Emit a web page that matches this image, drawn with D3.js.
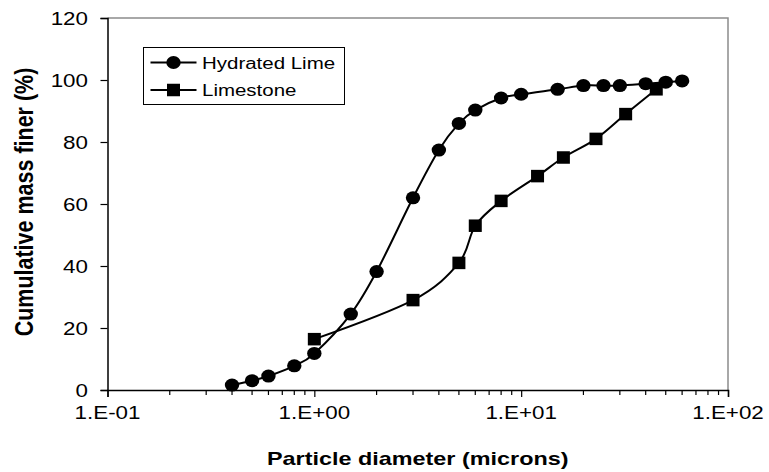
<!DOCTYPE html>
<html>
<head>
<meta charset="utf-8">
<script src="https://cdn.jsdelivr.net/npm/d3@7"></script>
<style>
  body { margin: 0; background: #fff; }
  svg { display: block; }
  text { font-family: "Liberation Sans", Arial, sans-serif; fill: #000; }
</style>
</head>
<body>
<svg id="chart" width="769" height="472"></svg>
<script>
// Particle size distributions (cumulative % finer vs diameter in microns)
const limeDiameter = [0.4, 0.5, 0.6, 0.8, 1, 1.5, 2, 3, 4, 5, 6, 8, 10, 15, 20, 25, 30, 40, 50, 60];
const limeFiner    = [1.6, 3.0, 4.5, 7.8, 11.8, 24.5, 38.2, 62, 77.4, 86, 90.3, 94.2, 95.4, 97, 98.2, 98.2, 98.2, 98.8, 99.3, 99.7];
const stoneDiameter = [1, 3, 5, 6, 8, 12, 16, 23, 32, 45];
const stoneFiner    = [16.4, 29, 41, 53, 61, 69, 75, 81, 89, 97];
const seriesNames = ["Hydrated Lime", "Limestone"];

const xTickValues = [0.1, 1, 10, 100];
const xTickLabels = ["1.E-01", "1.E+00", "1.E+01", "1.E+02"];
const yTickValues = [0, 20, 40, 60, 80, 100, 120];
const xTitle = "Particle diameter (microns)";
const yTitle = "Cumulative mass finer (%)";

const svg = d3.select("#chart");
const W = 769, H = 472;
const plot = { left: 107.5, right: 728, top: 18, bottom: 390 };
const textStretch = 1.27; // horizontal glyph stretch used by the labels

const x = d3.scaleLog().domain([0.1, 100]).range([plot.left, plot.right]);
const y = d3.scaleLinear().domain([0, 120]).range([plot.bottom, plot.top]);

svg.append("rect").attr("width", W).attr("height", H).attr("fill", "#fff");

// plot-area frame (top and right edges)
svg.append("path")
  .attr("d", `M${plot.left},${plot.top}H${plot.right}V${plot.bottom}`)
  .attr("fill", "none").attr("stroke", "#8c8c8c").attr("stroke-width", 1.5);

// helper: horizontally stretched text
function label(g, tx, ty, str, opts) {
  return g.append("text")
    .attr("transform", `translate(${tx},${ty}) scale(${opts.sx || textStretch},1)` + (opts.rotate ? ` rotate(${opts.rotate})` : ""))
    .attr("text-anchor", opts.anchor || "middle")
    .attr("font-size", opts.size)
    .attr("font-weight", opts.weight || "normal")
    .text(str);
}

// x axis: log scale with minor ticks
const xAxis = d3.axisBottom(x)
  .tickValues(xTickValues)
  .tickFormat("")
  .tickSizeOuter(0)
  .tickSize(7);
const gx = svg.append("g").attr("transform", `translate(0,${plot.bottom})`).call(xAxis);
gx.select(".domain").attr("stroke", "#000").attr("stroke-width", 1.5);
gx.selectAll(".tick line").attr("stroke", "#000").attr("stroke-width", 1.2);

const minor = [];
for (let d = 0.1; d < 100; d *= 10) for (let k = 2; k <= 9; k++) minor.push(d * k);
gx.selectAll(".minor").data(minor).enter().append("line")
  .attr("class", "minor")
  .attr("x1", d => x(d)).attr("x2", d => x(d))
  .attr("y1", 0).attr("y2", 5)
  .attr("stroke", "#000").attr("stroke-width", 1.2);

const gxl = svg.append("g");
xTickValues.forEach((v, i) => label(gxl, x(v), 419, xTickLabels[i], { size: 18.5, sx: 1.21 }));

// y axis
const yAxis = d3.axisLeft(y)
  .tickValues(yTickValues)
  .tickFormat("")
  .tickSizeOuter(0)
  .tickSize(7);
const gy = svg.append("g").attr("transform", `translate(${plot.left},0)`).call(yAxis);
gy.select(".domain").attr("stroke", "#000").attr("stroke-width", 1.5);
gy.selectAll(".tick line").attr("stroke", "#000").attr("stroke-width", 1.2);

const gyl = svg.append("g");
yTickValues.forEach(v => label(gyl, 88, y(v) + 6.5, String(v), { size: 18.5, anchor: "end", sx: 1.21 }));

// axis titles
label(svg, (plot.left + plot.right) / 2, 465, xTitle, { size: 18, weight: "bold", sx: 1.3 });
label(svg, 32.5, 202, yTitle, { size: 21.5, weight: "bold", sx: 1.2, rotate: -90 });

// series
const lime = limeDiameter.map((d, i) => ({ d, v: limeFiner[i] }));
const stone = stoneDiameter.map((d, i) => ({ d, v: stoneFiner[i] }));

const line = d3.line()
  .x(p => x(p.d))
  .y(p => y(p.v))
  .curve(d3.curveCardinal.tension(0));

const g = svg.append("g");
[lime, stone].forEach(s => {
  g.append("path").attr("d", line(s))
    .attr("fill", "none").attr("stroke", "#000").attr("stroke-width", 2);
});

const circleRx = 7.2, circleRy = 6.5, sqW = 13, sqH = 12.5;
g.selectAll(".lime").data(lime).enter().append("ellipse")
  .attr("class", "lime")
  .attr("cx", p => x(p.d)).attr("cy", p => y(p.v))
  .attr("rx", circleRx).attr("ry", circleRy).attr("fill", "#000");
g.selectAll(".stone").data(stone).enter().append("rect")
  .attr("class", "stone")
  .attr("x", p => x(p.d) - sqW / 2).attr("y", p => y(p.v) - sqH / 2)
  .attr("width", sqW).attr("height", sqH).attr("fill", "#000");

// legend
const leg = svg.append("g").attr("transform", "translate(143.5,47.5)");
leg.append("rect").attr("width", 201).attr("height", 57)
  .attr("fill", "#fff").attr("stroke", "#000").attr("stroke-width", 1);
seriesNames.forEach((name, i) => {
  const ry = 15 + i * 27.5;
  leg.append("line").attr("x1", 7).attr("x2", 53).attr("y1", ry).attr("y2", ry)
    .attr("stroke", "#000").attr("stroke-width", 2);
  if (i === 0) {
    leg.append("ellipse").attr("cx", 30).attr("cy", ry).attr("rx", circleRx).attr("ry", circleRy).attr("fill", "#000");
  } else {
    leg.append("rect").attr("x", 30 - sqW / 2).attr("y", ry - sqH / 2).attr("width", sqW).attr("height", sqH).attr("fill", "#000");
  }
  label(leg, 58.5, ry + 6, name, { size: 16, anchor: "start", sx: 1.28 });
});
</script>
</body>
</html>
